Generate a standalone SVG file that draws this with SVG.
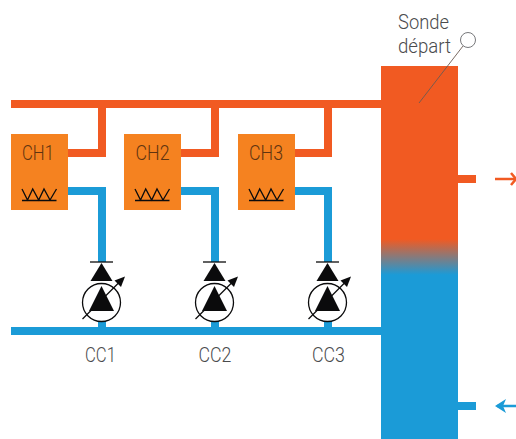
<svg xmlns="http://www.w3.org/2000/svg" width="516" height="439" viewBox="0 0 516 439">
<style>
.hot{fill:none;stroke:#f15a22;stroke-width:8}
.cold{fill:none;stroke:#1b9bd7;stroke-width:8}
.box{fill:#f58220}
.lbl{font-family:"Roboto","Liberation Sans",sans-serif;font-weight:300;font-size:20px;fill:#4a4b4d}
.ch{font-family:"Roboto","Liberation Sans",sans-serif;font-weight:300;font-size:21px;fill:#5f3410}
.blk{fill:#0b0b0c}
.ln{fill:none;stroke:#0b0b0c;stroke-width:1.3}
</style>
<defs>
<linearGradient id="tg" gradientUnits="userSpaceOnUse" x1="0" y1="66" x2="0" y2="439">
<stop offset="0.464" stop-color="#f15a22"/>
<stop offset="0.56" stop-color="#1b9bd7"/>
</linearGradient>
<g id="res"><path class="ln" d="M0 55L5.500 66L10.700 55L16.700 66L22 55L28 66L34.500 55M0 66.500H34.500"/></g>
<g id="pump">
<path class="blk" d="M0 263L11 281H-11Z"/>
<path class="ln" d="M-11.500 262H11.500"/>
<circle cx="0" cy="302.500" r="19" fill="#fff" stroke="#0b0b0c" stroke-width="1.300"/>
<path class="blk" d="M0 286L12.500 311H-12.500Z"/>
<path class="ln" d="M-19 319L20 280"/>
<path class="blk" d="M23.500 276.500L19.500 287L13 280.500Z"/>
</g>
</defs>
<g id="connectors">
<path class="hot" d="M11 104H381"/>
<path class="cold" d="M11 331H381"/>
<path class="hot" d="M68 153H102V104M181 153H215V104M295 153H328V104"/>
<path class="cold" d="M68 191H102V262M102 320V331M181 191H215V262M215 320V331M295 191H328V262M328 320V331"/>
<path class="hot" d="M458 179H476"/>
<path class="cold" d="M458 406H476"/>
<path fill="none" stroke="#f15a22" stroke-width="2.500" d="M495 179H516"/>
<path fill="none" stroke="#f15a22" stroke-width="2.500" d="M511 173L516 179L511 185"/>
<path fill="none" stroke="#1b9bd7" stroke-width="2.500" d="M516 406H497"/>
<path fill="#1b9bd7" d="M495 406L506 399L503 406L506 413Z"/>
</g>
<g id="tank"><rect x="381" y="66" width="77" height="373" fill="url(#tg)"/></g>
<g id="ch1"><rect class="box" x="11" y="134" width="57" height="76"/><text class="ch" x="22" y="160" textLength="32" lengthAdjust="spacingAndGlyphs">CH1</text><use href="#res" x="22" y="134"/></g>
<g id="ch2"><rect class="box" x="124" y="134" width="57" height="76"/><text class="ch" x="135.500" y="160" textLength="34" lengthAdjust="spacingAndGlyphs">CH2</text><use href="#res" x="135" y="134"/></g>
<g id="ch3"><rect class="box" x="238" y="134" width="57" height="76"/><text class="ch" x="249" y="160" textLength="34" lengthAdjust="spacingAndGlyphs">CH3</text><use href="#res" x="249" y="134"/></g>
<g id="cc1"><use href="#pump" x="101.500"/><text class="lbl" x="85" y="362" textLength="31" lengthAdjust="spacingAndGlyphs">CC1</text></g>
<g id="cc2"><use href="#pump" x="214.500"/><text class="lbl" x="198.500" y="362" textLength="33" lengthAdjust="spacingAndGlyphs">CC2</text></g>
<g id="cc3"><use href="#pump" x="327.500"/><text class="lbl" x="312" y="362" textLength="33" lengthAdjust="spacingAndGlyphs">CC3</text></g>
<g id="sonde">
<text class="lbl" x="398" y="29" textLength="51" lengthAdjust="spacingAndGlyphs">Sonde</text>
<text class="lbl" x="398" y="53" textLength="53" lengthAdjust="spacingAndGlyphs">départ</text>
<circle cx="468" cy="40" r="7.500" fill="#fff" stroke="#77787b" stroke-width="1"/>
<path d="M463 46L419 103" stroke="#6b5a52" stroke-width="0.900" fill="none"/>
</g>
</svg>
